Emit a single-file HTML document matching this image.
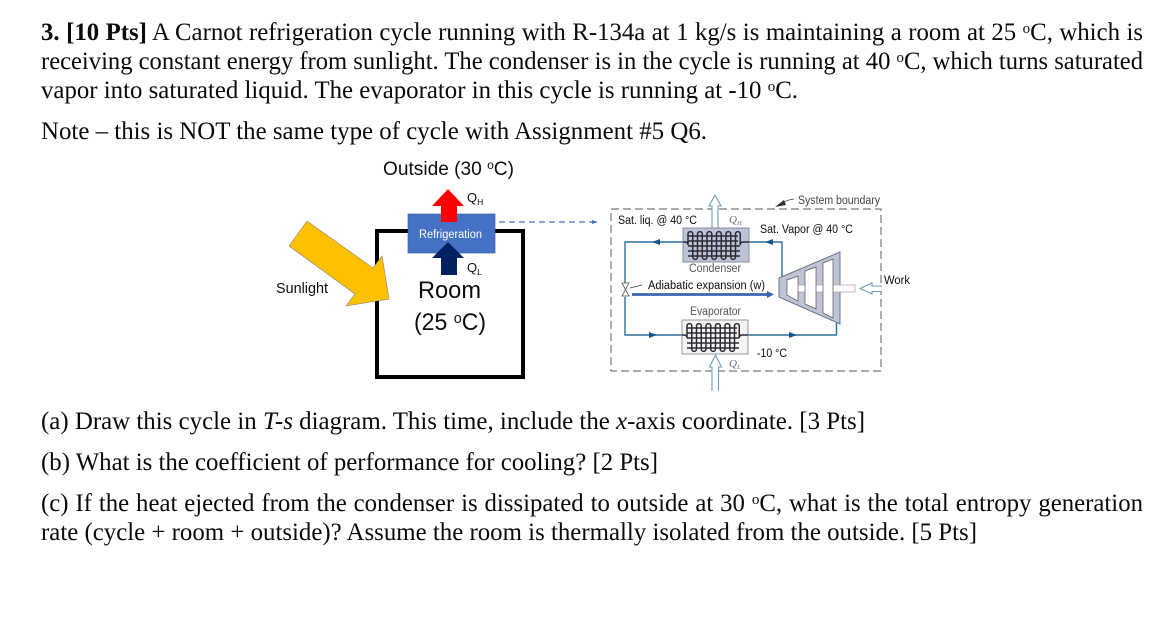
<!DOCTYPE html>
<html><head><meta charset="utf-8">
<style>
html,body{margin:0;padding:0;background:#fff;width:1170px;height:630px;overflow:hidden;position:relative}
svg{display:block;position:absolute;left:0;top:0}
.l{position:absolute;left:41px;font:24.8px/30px "Liberation Serif",serif;color:#0a0a0a;white-space:normal}
.j{width:1102px;text-align:justify;text-align-last:justify}
.l span.o{font-size:15px;position:relative;top:-7px}
.t{font-family:"Liberation Serif",serif;font-size:24.8px;fill:#0a0a0a}
.s{font-family:"Liberation Sans",sans-serif;fill:#111}
</style></head><body>
<div class="l j" style="top:17.6px"><b>3. [10 Pts]</b> A Carnot refrigeration cycle running with R-134a at 1 kg/s is maintaining a room at 25 <span class="o">o</span>C, which is</div>
<div class="l j" style="top:488.6px">(c) If the heat ejected from the condenser is dissipated to outside at 30 <span class="o">o</span>C, what is the total entropy generation</div>

<svg width="1170" height="630" viewBox="0 0 1170 630" xmlns="http://www.w3.org/2000/svg">
<defs><filter id="b" x="0" y="0" width="100%" height="100%" filterUnits="userSpaceOnUse" primitiveUnits="userSpaceOnUse"><feGaussianBlur stdDeviation="0.3"/></filter></defs>
<text class="t" x="41" y="69" textLength="1102" lengthAdjust="spacingAndGlyphs">receiving constant energy from sunlight. The condenser is in the cycle is running at 40 <tspan font-size="15" dy="-7">o</tspan><tspan dy="7">C, which turns saturated</tspan></text>
<text class="t" x="41" y="98" textLength="757" lengthAdjust="spacingAndGlyphs">vapor into saturated liquid. The evaporator in this cycle is running at -10 <tspan font-size="15" dy="-7">o</tspan><tspan dy="7">C.</tspan></text>
<text class="t" x="41" y="139" textLength="666" lengthAdjust="spacingAndGlyphs">Note – this is NOT the same type of cycle with Assignment #5 Q6.</text>
<text class="t" x="41" y="429" textLength="824" lengthAdjust="spacingAndGlyphs">(a) Draw this cycle in <tspan font-style="italic">T-s</tspan> diagram. This time, include the <tspan font-style="italic">x</tspan>-axis coordinate. [3 Pts]</text>
<text class="t" x="41" y="470" textLength="617" lengthAdjust="spacingAndGlyphs">(b) What is the coefficient of performance for cooling? [2 Pts]</text>
<text class="t" x="41" y="540" textLength="936" lengthAdjust="spacingAndGlyphs">rate (cycle + room + outside)? Assume the room is thermally isolated from the outside. [5 Pts]</text>
<g filter="url(#b)">
<!-- left diagram -->
<text class="s" x="383" y="175" font-size="19" textLength="131" lengthAdjust="spacingAndGlyphs">Outside (30 <tspan font-size="12" dy="-6">o</tspan><tspan dy="6">C)</tspan></text>
<rect x="377" y="231" width="146" height="146" fill="none" stroke="#000" stroke-width="4"/>
<rect x="408" y="214" width="87" height="39" fill="#4472c4" stroke="#3a62a8" stroke-width="0.7"/>
<polygon points="448,189 464,206 457,206 457,222 441,222 441,206 432,206" fill="#ff0000"/>
<polygon points="448,242 464,258 457,258 457,275 441,275 441,258 432,258" fill="#002060"/>
<text class="s" x="419" y="238" font-size="11.500" style="fill:#fff" textLength="63" lengthAdjust="spacingAndGlyphs">Refrigeration</text>
<text class="s" x="467" y="202" font-size="13">Q<tspan font-size="8.500" dy="3">H</tspan></text>
<text class="s" x="467" y="272" font-size="13">Q<tspan font-size="8.500" dy="3">L</tspan></text>
<polygon points="307,221 289,246 355,294 346,306 389,299 382,256 373,268" fill="#ffc000" stroke="#7f7f7f" stroke-width="0.6"/>
<text class="s" x="276" y="293" font-size="14.500" textLength="52" lengthAdjust="spacingAndGlyphs">Sunlight</text>
<text class="s" x="418" y="298" font-size="24" textLength="63" lengthAdjust="spacingAndGlyphs">Room</text>
<text class="s" x="414" y="330" font-size="24" textLength="72" lengthAdjust="spacingAndGlyphs">(25 <tspan font-size="15" dy="-7">o</tspan><tspan dy="7">C)</tspan></text>
<line x1="499" y1="222" x2="594" y2="222" stroke="#4472c4" stroke-width="1.3" stroke-dasharray="6 4"/>
<polygon points="598,222 592,220 592,224" fill="#4472c4"/>

<!-- right diagram -->
<rect x="611" y="209" width="270" height="162" fill="none" stroke="#7a7a7a" stroke-width="1.2" stroke-dasharray="8 4"/>
<path d="M778,205 Q786,200 794,199" fill="none" stroke="#444" stroke-width="0.8"/>
<polygon points="775,207 784,200 786,205" fill="#333"/>
<text class="s" x="798" y="204" font-size="11.500" style="fill:#444" textLength="82" lengthAdjust="spacingAndGlyphs">System boundary</text>
<text class="s" x="618" y="224" font-size="11.500" textLength="79" lengthAdjust="spacingAndGlyphs">Sat. liq. @ 40 °C</text>
<text class="s" x="760" y="233" font-size="11.500" textLength="93" lengthAdjust="spacingAndGlyphs">Sat. Vapor @ 40 °C</text>
<text class="s" x="648" y="289" font-size="11.500" textLength="117" lengthAdjust="spacingAndGlyphs">Adiabatic expansion (w)</text>
<text class="s" x="757" y="357" font-size="11.500" textLength="30" lengthAdjust="spacingAndGlyphs">-10 °C</text>
<text class="s" x="689" y="272" font-size="11.500" style="fill:#555" textLength="52" lengthAdjust="spacingAndGlyphs">Condenser</text>
<text class="s" x="690" y="315" font-size="11.500" style="fill:#555" textLength="51" lengthAdjust="spacingAndGlyphs">Evaporator</text>
<text x="729" y="223" font-family="Liberation Serif,serif" font-style="italic" font-size="11" fill="#666">Q<tspan font-size="6.500" dy="2">H</tspan></text>
<text x="729" y="367" font-family="Liberation Serif,serif" font-style="italic" font-size="11" fill="#666">Q<tspan font-size="6.500" dy="2">L</tspan></text>

<!-- heat arrows -->
<g fill="#fff" stroke="#6f9dbd" stroke-width="1.1">
<path d="M712,228 V206 H709 L715,195 L721,206 H718 V228"/>
<path d="M712,391 V367 H709.500 L715.500,355 L721.500,367 H718.500 V391"/>
<path d="M882,286 H872 V283 L860,288.500 L872,294 V291.500 H882"/>
</g>

<!-- pipes -->
<g fill="none" stroke="#2a6f9e" stroke-width="1.4">
<polyline points="683,242 625,242 625,283"/>
<polyline points="625,297 625,335 682,335"/>
<polyline points="749,242 782,242 782,277"/>
<polyline points="748,335 836.500,335 836.500,323"/>
</g>
<g fill="#14568c">
<polygon points="652,242 660,239 660,245"/>
<polygon points="765,242 773,239 773,245"/>
<polygon points="657,335 649,332 649,338"/>
<polygon points="797,335 789,332 789,338"/>
</g>
<!-- valve -->
<polygon points="622,283 629,283 622,296 629,296" fill="#fff" stroke="#555" stroke-width="0.8"/>
<line x1="630" y1="288" x2="642" y2="285" stroke="#333" stroke-width="0.8"/>
<!-- expansion arrow -->
<line x1="632" y1="294.500" x2="768" y2="294.500" stroke="#3a66b0" stroke-width="2.7"/>
<polygon points="774,294.500 767,291 767,298" fill="#3a66b0"/>

<!-- condenser -->
<rect x="683" y="228" width="66" height="34" fill="#bcc3d6" stroke="#8a8fa0" stroke-width="1"/>
<g fill="none" stroke="#2b2b33" stroke-width="1.500">
<path d="M683,242 H685 Q688,242 688,245 V234 a2.375,2.375 0 0 1 4.750,0 V257 a2.375,2.375 0 0 0 4.750,0 V234 a2.375,2.375 0 0 1 4.750,0 V257 a2.375,2.375 0 0 0 4.750,0 V234 a2.375,2.375 0 0 1 4.750,0 V257 a2.375,2.375 0 0 0 4.750,0 V234 a2.375,2.375 0 0 1 4.750,0 V257 a2.375,2.375 0 0 0 4.750,0 V234 a2.375,2.375 0 0 1 4.750,0 V257 a2.375,2.375 0 0 0 4.750,0 V234 a2.375,2.375 0 0 1 4.750,0 V245 Q740.250,242 743,242 H749"/>
<path d="M688,236 H738 M688,241 H738 M688,246 H740 M688,251 H740 M688,256 H740"/>
</g>
<!-- evaporator -->
<rect x="682" y="320" width="66" height="34" fill="#f4f4f4" stroke="#999" stroke-width="1"/>
<g fill="none" stroke="#2b2b33" stroke-width="1.500">
<path d="M682,335 H684 Q687,335 687,338 V326 a2.375,2.375 0 0 1 4.750,0 V349 a2.375,2.375 0 0 0 4.750,0 V326 a2.375,2.375 0 0 1 4.750,0 V349 a2.375,2.375 0 0 0 4.750,0 V326 a2.375,2.375 0 0 1 4.750,0 V349 a2.375,2.375 0 0 0 4.750,0 V326 a2.375,2.375 0 0 1 4.750,0 V349 a2.375,2.375 0 0 0 4.750,0 V326 a2.375,2.375 0 0 1 4.750,0 V349 a2.375,2.375 0 0 0 4.750,0 V326 a2.375,2.375 0 0 1 4.750,0 V338 Q739.250,335 742,335 H748"/>
<path d="M687,328 H737 M687,333 H737 M687,338 H739 M687,343 H739 M687,348 H739"/>
</g>

<!-- compressor -->
<polygon points="779,278 840,252 840,324 779,297" fill="#bfc4d4" stroke="#6d7590" stroke-width="1"/>
<rect x="795" y="285" width="60" height="7" fill="#fff" stroke="#9aa0b0" stroke-width="0.7"/>
<polygon points="787,280 798,276 798,301 787,295" fill="#fff" stroke="#555" stroke-width="0.7"/>
<polygon points="805,271 816,267 816,309 805,304" fill="#fff" stroke="#555" stroke-width="0.7"/>
<polygon points="823,263 833,259 833,318 823,313" fill="#fff" stroke="#555" stroke-width="0.7"/>
<text class="s" x="884" y="284" font-size="11.500" textLength="26" lengthAdjust="spacingAndGlyphs">Work</text>
</g>
</svg>
</body></html>
